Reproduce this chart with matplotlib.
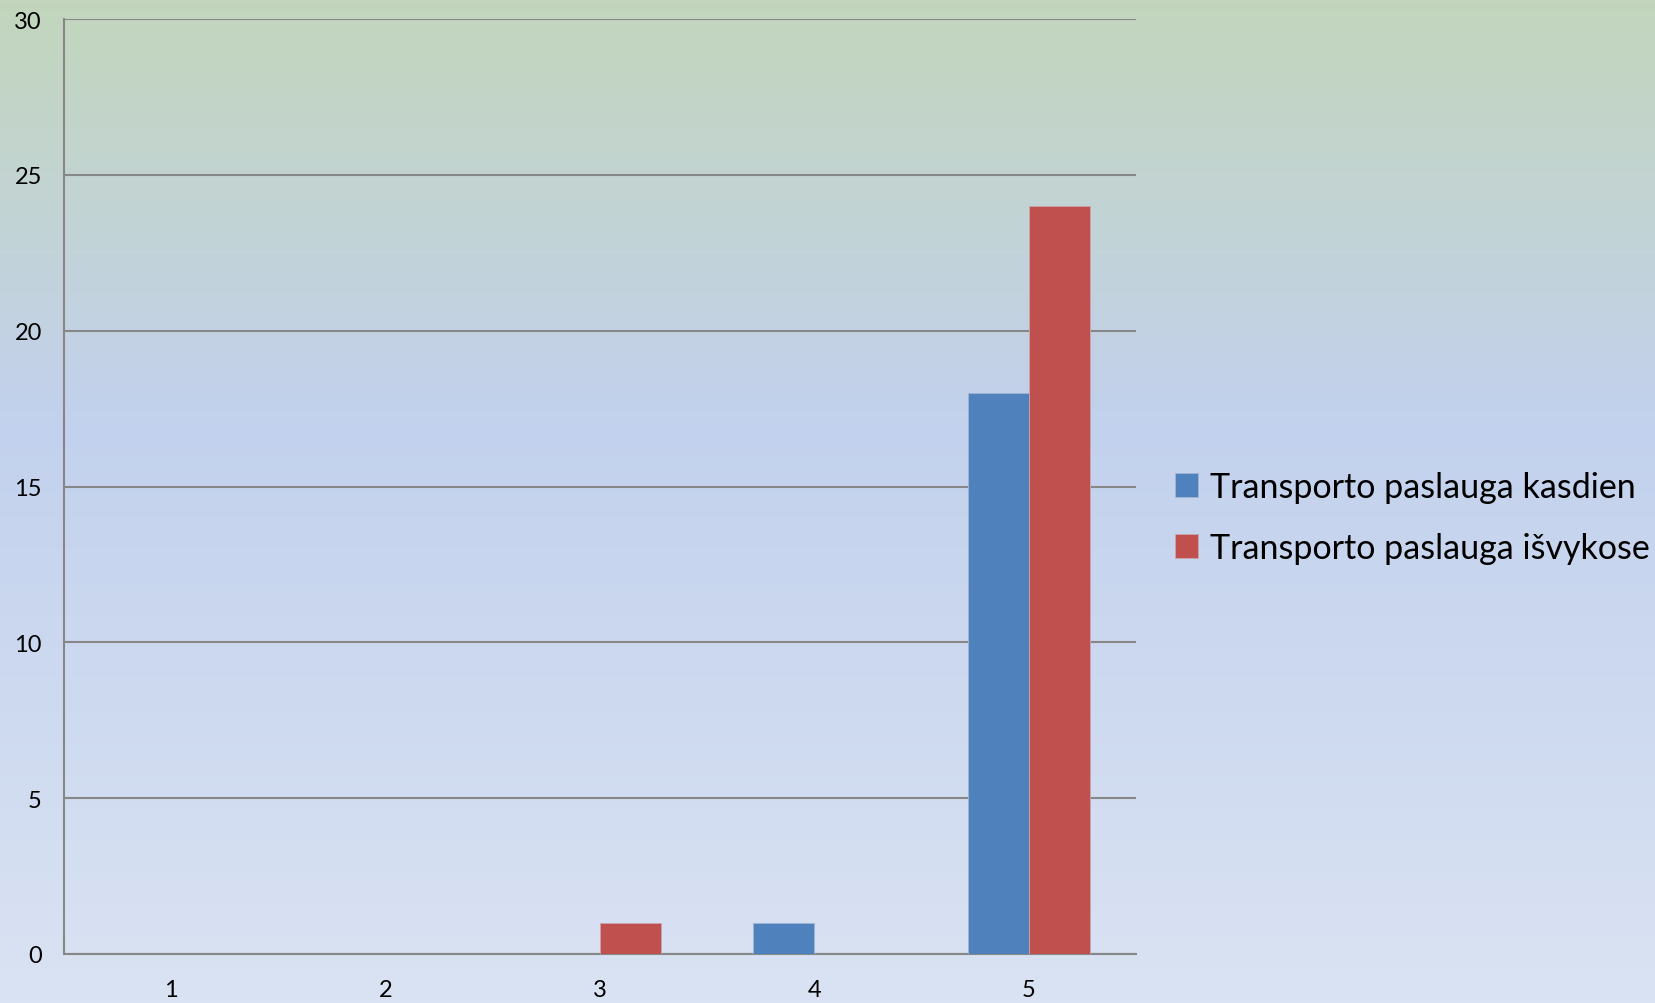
import numpy as np
import matplotlib.pyplot as plt
from matplotlib.colors import LinearSegmentedColormap

# data
categories = [1, 2, 3, 4, 5]
kasdien = [0, 0, 0, 1, 18]
isvykose = [0, 0, 1, 0, 24]
series_names = ["Transporto paslauga kasdien", "Transporto paslauga išvykose"]
yticks = [0, 5, 10, 15, 20, 25, 30]

plt.rcParams['font.family'] = ['Lato', 'DejaVu Sans']

fig = plt.figure(figsize=(16.55, 10.04), dpi=100)

# background gradient
bg = fig.add_axes([0, 0, 1, 1], zorder=-10)
cmap = LinearSegmentedColormap.from_list(
    "bg", [(0.0, "#c3d6bc"), (0.42, "#c2d1ed"), (1.0, "#dae3f3")])
grad = np.linspace(0, 1, 256).reshape(-1, 1)
bg.imshow(grad, aspect="auto", cmap=cmap, extent=[0, 1, 0, 1], origin="upper")
bg.axis("off")

ax = fig.add_axes([64 / 1655, 1 - 955 / 1004, (1136 - 64) / 1655, (955 - 20) / 1004])
ax.set_facecolor("none")

x = np.array(categories)
w = 0.285
ax.bar(x - w / 2, kasdien, w, color="#4f81bd", label=series_names[0], zorder=3,
       edgecolor="#9fb4d4", linewidth=0.6)
ax.bar(x + w / 2, isvykose, w, color="#c0504d", label=series_names[1], zorder=3,
       edgecolor="#c9a5b0", linewidth=0.6)

ax.set_xlim(0.5, 5.5)
ax.set_ylim(0, 30)
ax.set_yticks(yticks)
ax.set_xticks(categories)
ax.yaxis.grid(True, color="#878787", linewidth=1.5, zorder=0)
ax.set_axisbelow(True)
for s in ["top", "right"]:
    ax.spines[s].set_visible(False)
for s in ["left", "bottom"]:
    ax.spines[s].set_color("#878787")
    ax.spines[s].set_linewidth(1.5)
ax.tick_params(length=0, labelsize=17, colors="black")
ax.tick_params(axis="y", pad=16)
ax.tick_params(axis="x", pad=18)

ax.legend(loc="center left", bbox_to_anchor=(1144 / 1655, 0.484),
          bbox_transform=fig.transFigure, frameon=False,
          fontsize=24.5, handlelength=0.7, handleheight=0.7, handletextpad=0.35,
          labelspacing=0.85)

fig.savefig("out.png", dpi=100)
